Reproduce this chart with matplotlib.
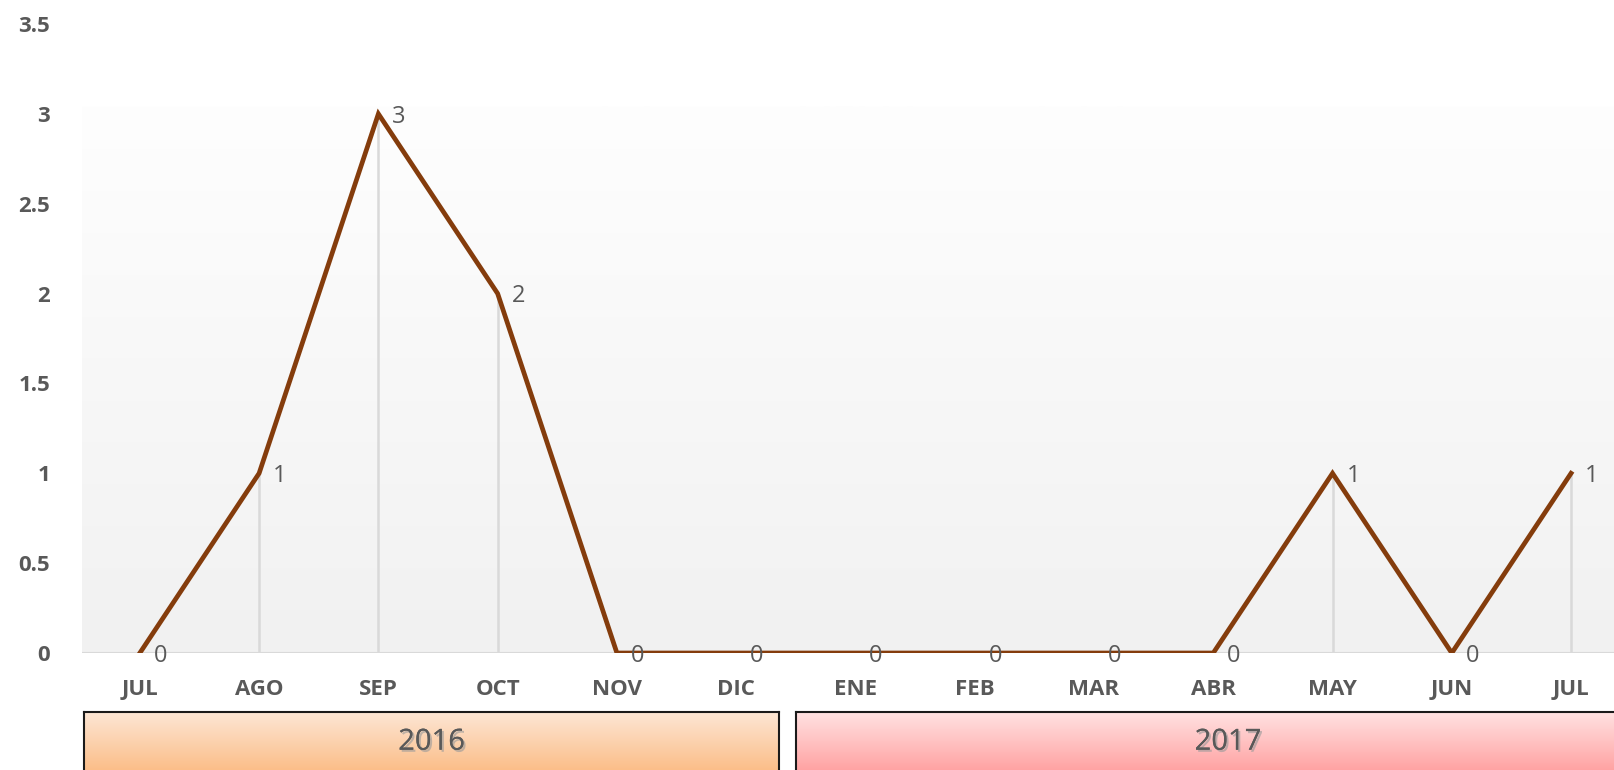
import numpy as np
import matplotlib
matplotlib.use("Agg")
import matplotlib.pyplot as plt
import matplotlib.patheffects as pe

months = ["JUL", "AGO", "SEP", "OCT", "NOV", "DIC", "ENE", "FEB", "MAR", "ABR", "MAY", "JUN", "JUL"]
values = [0, 1, 3, 2, 0, 0, 0, 0, 0, 0, 1, 0, 1]
years = ["2016", "2017"]
y_ticks = [0, 0.5, 1, 1.5, 2, 2.5, 3, 3.5]

gray = "#595959"
plt.rcParams["font.family"] = ["Open Sans", "DejaVu Sans"]

fig = plt.figure(figsize=(16.14, 7.7), dpi=100)
ax = fig.add_axes([82 / 1614, 1 - 653 / 770, 1 - 82 / 1614, (653 - 24) / 770])

x = np.arange(len(months))
ax.set_xlim(-0.485, 12.36)
ax.set_ylim(0, 3.5)

# soft gradient behind the plot
grad = np.linspace(0, 1, 256).reshape(-1, 1)
ax.imshow(grad, extent=(-0.485, 12.36, 0, 3.04), aspect="auto", origin="lower",
          cmap=matplotlib.colors.LinearSegmentedColormap.from_list("bg", ["#F1F1F1", "#FEFEFE"]),
          zorder=0)

ax.axhline(0, color="#D9D9D9", lw=1.5, zorder=1)
ax.vlines(x, 0, values, color="#D9D9D9", lw=1.8, zorder=1)
ax.plot(x, values, color="#843C0C", lw=3.4, solid_joinstyle="miter", zorder=3)

for xi, v in zip(x, values):
    ax.annotate(str(v), (xi, v), xytext=(10, -2), textcoords="offset points",
                ha="left", va="center", fontsize=17, color=gray, zorder=4)

ax.set_xticks(x)
ax.set_xticklabels(months, fontsize=16, fontweight="bold", color=gray)
ax.set_yticks(y_ticks)
ax.set_yticklabels([f"{t:g}" for t in y_ticks], fontsize=16, fontweight="bold", color=gray)
ax.tick_params(axis="x", length=0, pad=19)
ax.tick_params(axis="y", length=0, pad=23)
for s in ax.spines.values():
    s.set_visible(False)

# year boxes under the month axis
box_specs = [
    (84, 779, "#FDE7D6", "#FBBE89"),
    (796, 1660, "#FFE3E3", "#FFA3A3"),
]
for (x0, x1, c_top, c_bot), yr in zip(box_specs, years):
    bax = fig.add_axes([x0 / 1614, -0.06, (x1 - x0) / 1614, 0.06 + 1 - 712 / 770])
    cmap = matplotlib.colors.LinearSegmentedColormap.from_list("b", [c_bot, c_top])
    bax.imshow(grad, extent=(0, 1, 0.44, 1), aspect="auto", origin="lower", cmap=cmap)
    bax.set_xlim(0, 1)
    bax.set_ylim(0, 1)
    bax.set_xticks([])
    bax.set_yticks([])
    for s in bax.spines.values():
        s.set_color("#1A1A1A")
        s.set_linewidth(1.5)
    bax.text(0.5, 0.71, yr, ha="center", va="center", fontsize=21, color=gray,
             path_effects=[pe.withSimplePatchShadow(offset=(1.5, -1.5), shadow_rgbFace="#999999", alpha=0.6),
                           pe.Normal()])

fig.savefig("out.png", dpi=100)
